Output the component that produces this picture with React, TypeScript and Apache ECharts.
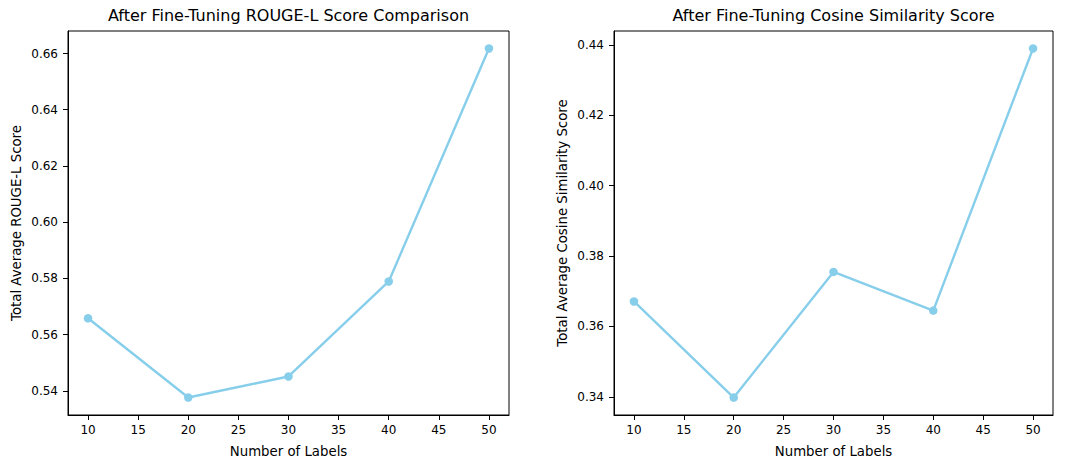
import React, { useEffect, useRef } from "react";
import * as echarts from "echarts";

const labelCounts = [10, 20, 30, 40, 50];
const rougeScores = [0.5658, 0.5376, 0.5451, 0.5789, 0.6618];
const cosineScores = [0.3671, 0.3398, 0.3755, 0.3645, 0.439];
const xTicks = [10, 15, 20, 25, 30, 35, 40, 45, 50];
const rougeTicks = [0.54, 0.56, 0.58, 0.6, 0.62, 0.64, 0.66];
const cosineTicks = [0.34, 0.36, 0.38, 0.4, 0.42, 0.44];

const FONT = "DejaVu Sans";
const COLOR = "#87CEEB";

function padExtent(vals: number[], frac = 0.05): [number, number] {
  const mn = Math.min(...vals);
  const mx = Math.max(...vals);
  const p = (mx - mn) * frac;
  return [mn - p, mx + p];
}

export default function App() {
  const ref = useRef<HTMLDivElement>(null);
  useEffect(() => {
    if (!ref.current) return;
    const chart = echarts.init(ref.current, null, { renderer: "svg" });
    const xExt = padExtent(labelCounts);
    const rExt = padExtent(rougeScores);
    const cExt = padExtent(cosineScores);
    const grids = [
      { left: 68, top: 31, width: 441, height: 384 },
      { left: 614, top: 31, width: 439, height: 384 },
    ];
    const axisCommon = {
      axisLine: { show: true, onZero: false, lineStyle: { color: "#000", width: 1 } },
      axisTick: { show: true, length: 5, lineStyle: { color: "#000", width: 1 } },
      splitLine: { show: false },
      nameTextStyle: { fontFamily: FONT, fontSize: 13.3, color: "#000" },
    };
    const xAxis = [0, 1].map((i) => ({
      ...axisCommon,
      type: "value",
      gridIndex: i,
      min: xExt[0],
      max: xExt[1],
      name: "Number of Labels",
      nameLocation: "middle",
      nameGap: 30,
      axisTick: { ...axisCommon.axisTick, customValues: xTicks },
      axisLabel: {
        customValues: xTicks,
        fontFamily: FONT,
        fontSize: 12,
        color: "#000",
        margin: 9,
        formatter: (v: number) => String(v),
      },
    }));
    const yAxis = [
      { ext: rExt, ticks: rougeTicks, name: "Total Average ROUGE-L Score" },
      { ext: cExt, ticks: cosineTicks, name: "Total Average Cosine Similarity Score" },
    ].map((a, i) => ({
      ...axisCommon,
      type: "value",
      gridIndex: i,
      min: a.ext[0],
      max: a.ext[1],
      name: a.name,
      nameLocation: "middle",
      nameGap: 45,
      axisTick: { ...axisCommon.axisTick, customValues: a.ticks },
      axisLabel: {
        customValues: a.ticks,
        fontFamily: FONT,
        fontSize: 12,
        color: "#000",
        margin: 10,
        formatter: (v: number) => v.toFixed(2),
      },
    }));
    chart.setOption({
      animation: false,
      backgroundColor: "#fff",
      title: [
        { text: "After Fine-Tuning ROUGE-L Score Comparison", left: 288.5 },
        { text: "After Fine-Tuning Cosine Similarity Score", left: 833.5 },
      ].map((t) => ({
        ...t,
        textAlign: "center",
        top: 7,
        padding: 0,
        textStyle: { fontFamily: FONT, fontSize: 16, fontWeight: "normal", color: "#000" },
      })),
      grid: grids.map((g) => ({ ...g, show: true, borderColor: "#000", borderWidth: 1, backgroundColor: "transparent" })),
      xAxis,
      yAxis,
      series: [rougeScores, cosineScores].map((vals, i) => ({
        type: "line",
        xAxisIndex: i,
        yAxisIndex: i,
        data: labelCounts.map((x, j) => [x, vals[j]]),
        symbol: "circle",
        symbolSize: 8.5,
        showSymbol: true,
        lineStyle: { color: COLOR, width: 2.4 },
        itemStyle: { color: COLOR, borderWidth: 0 },
      })),
    });
    return () => chart.dispose();
  }, []);
  return <div ref={ref} style={{ width: 1083, height: 468, position: "absolute", left: 0, top: 0 }} />;
}
